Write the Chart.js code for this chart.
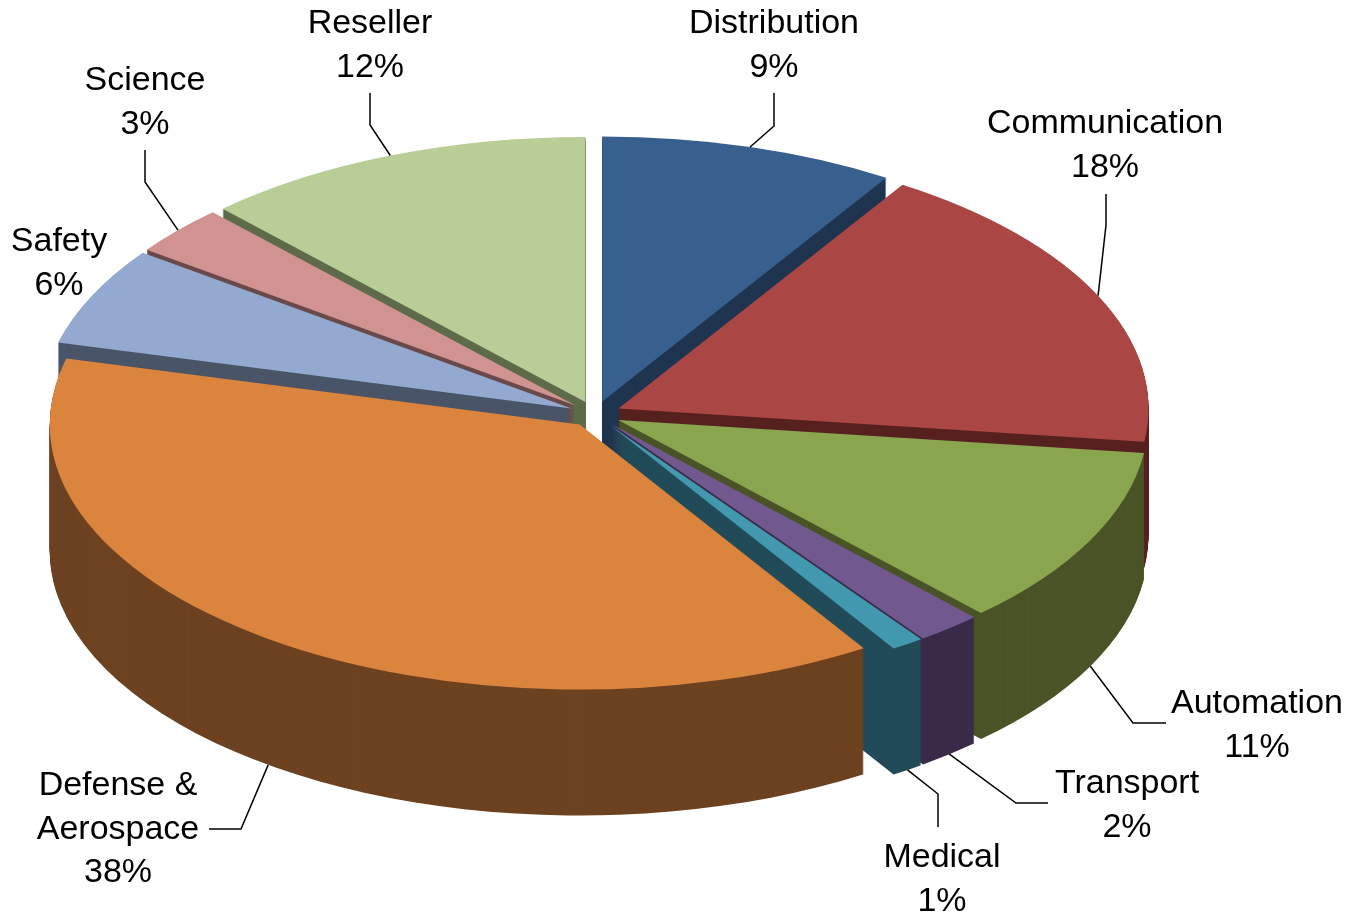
<!DOCTYPE html>
<html>
<head>
<meta charset="utf-8">
<script src="https://cdn.jsdelivr.net/npm/chart.js@4.4.1/dist/chart.umd.min.js"></script>
<style>
    html, body { margin: 0; padding: 0; background: #ffffff; }
    canvas { display: block; }
</style>
</head>
<body>
<canvas id="pie" width="1352" height="914"></canvas>
<script>
(function() {
    'use strict';

    // --- Data ---
    const categoryLines = [
        ['Distribution'], ['Communication'], ['Automation'], ['Transport'], ['Medical'],
        ['Defense &', 'Aerospace'], ['Safety'], ['Science'], ['Reseller']
    ];
    const categories = categoryLines.map(lines => lines.join(' '));
    const shares = [9, 18, 11, 2, 1, 38, 6, 3, 12];
    const percentLabels = ['9%', '18%', '11%', '2%', '1%', '38%', '6%', '3%', '12%'];

    // --- Styles ---
    const topColors = ['#37608f', '#aa4745', '#89a54e', '#71588f', '#4198af', '#db843d', '#93a9cf', '#d19392', '#b9cd96'];
    const sideColors = ['#1f344f', '#572120', '#4a5427', '#3a2b49', '#214b58', '#6d4220', '#4a5568', '#6a4a4a', '#5e6b4b'];

    // --- Label layout (text centre x, first baseline y) and leader line bends ---
    const labelPos = [[774, 33], [1105, 133], [1257, 713], [1127, 793], [942, 867], [118, 795], [59, 251], [145, 90], [370, 33]];
    const leaderBends = [
        [[774, 126], [774, 93]],
        [[1106, 225], [1106, 194]],
        [[1133, 723], [1166, 723]],
        [[1016, 803], [1048, 803]],
        [[938, 794], [938, 827]],
        [[241, 829], [209, 829]],
        null,
        [[145, 182], [145, 150]],
        [[370, 125], [370, 93]]
    ];

    const tilt = {
        stretchX: 2.0,    // horizontal stretch turning the circle into a flat ellipse
        depth: 126,       // thickness of the pie
        explode: 13       // distance each slice is pulled away from the centre
    };
    const font = { family: "'Liberation Sans', Arial, sans-serif", size: 33, stretch: 1.03, lineHeight: 43.5 };

    // Applies the elliptical squash around the pie centre.
    const applyTilt = (ctx, cx) => {
        ctx.translate(cx, 0);
        ctx.scale(tilt.stretchX, 1);
        ctx.translate(-cx, 0);
    };

    // Draws the extruded sides, then the slice tops through the arc elements.
    const pie3d = {
        id: 'pie3d',
        beforeDatasetsDraw(chart) {
            const ctx = chart.ctx;
            const arcs = chart.getDatasetMeta(0).data;
            if (!arcs.length) return;
            const cx = arcs[0].x;

            ctx.save();
            applyTilt(ctx, cx);

            // stack of shifted copies, deepest first, so the nearest face wins
            for (let dy = tilt.depth; dy >= 1; dy--) {
                arcs.forEach((arc, i) => {
                    const mid = (arc.startAngle + arc.endAngle) / 2;
                    const ox = arc.x + Math.cos(mid) * tilt.explode;
                    const oy = arc.y + Math.sin(mid) * tilt.explode + dy;
                    ctx.fillStyle = sideColors[i];
                    ctx.beginPath();
                    ctx.moveTo(ox, oy);
                    ctx.arc(ox, oy, arc.outerRadius, arc.startAngle, arc.endAngle);
                    ctx.closePath();
                    ctx.fill();
                });
            }

            arcs.forEach(arc => {
                const mid = (arc.startAngle + arc.endAngle) / 2;
                ctx.save();
                ctx.translate(Math.cos(mid) * tilt.explode, Math.sin(mid) * tilt.explode);
                arc.draw(ctx);
                ctx.restore();
            });

            ctx.restore();
            return false;
        },
        afterDraw(chart) {
            const ctx = chart.ctx;
            const arcs = chart.getDatasetMeta(0).data;
            if (!arcs.length) return;
            const cx = arcs[0].x;

            // Leader lines from the slice rim to the labels
            ctx.save();
            ctx.strokeStyle = '#000000';
            ctx.lineWidth = 1.5;
            arcs.forEach((arc, i) => {
                const bends = leaderBends[i];
                if (!bends) return;
                const mid = (arc.startAngle + arc.endAngle) / 2;
                const r = arc.outerRadius + tilt.explode;
                const px = cx + (arc.x + Math.cos(mid) * r - cx) * tilt.stretchX;
                const py = arc.y + Math.sin(mid) * r + (Math.sin(mid) > 0 ? tilt.depth : 0);
                ctx.beginPath();
                ctx.moveTo(px, py);
                bends.forEach(p => ctx.lineTo(p[0], p[1]));
                ctx.stroke();
            });
            ctx.restore();

            // Category and percentage labels
            ctx.save();
            ctx.fillStyle = '#000000';
            ctx.font = font.size + 'px ' + font.family;
            ctx.textAlign = 'center';
            ctx.textBaseline = 'alphabetic';
            const drawText = (text, x, y) => {
                ctx.save();
                ctx.translate(x, y);
                ctx.scale(font.stretch, 1);
                ctx.fillText(text, 0, 0);
                ctx.restore();
            };
            categoryLines.forEach((lines, i) => {
                const [x, y] = labelPos[i];
                lines.forEach((line, k) => drawText(line, x, y + k * font.lineHeight));
                drawText(percentLabels[i], x, y + lines.length * font.lineHeight);
            });
            ctx.restore();
        }
    };

    new Chart(document.getElementById('pie').getContext('2d'), {
        type: 'pie',
        data: {
            labels: categories,
            datasets: [{
                data: shares,
                backgroundColor: topColors,
                borderWidth: 0,
                radius: 265
            }]
        },
        options: {
            responsive: false,
            animation: false,
            events: [],
            layout: { padding: { left: 0, right: 162, top: 0, bottom: 86 } },
            plugins: {
                legend: { display: false },
                tooltip: { enabled: false }
            }
        },
        plugins: [pie3d]
    });
})();
</script>
</body>
</html>
